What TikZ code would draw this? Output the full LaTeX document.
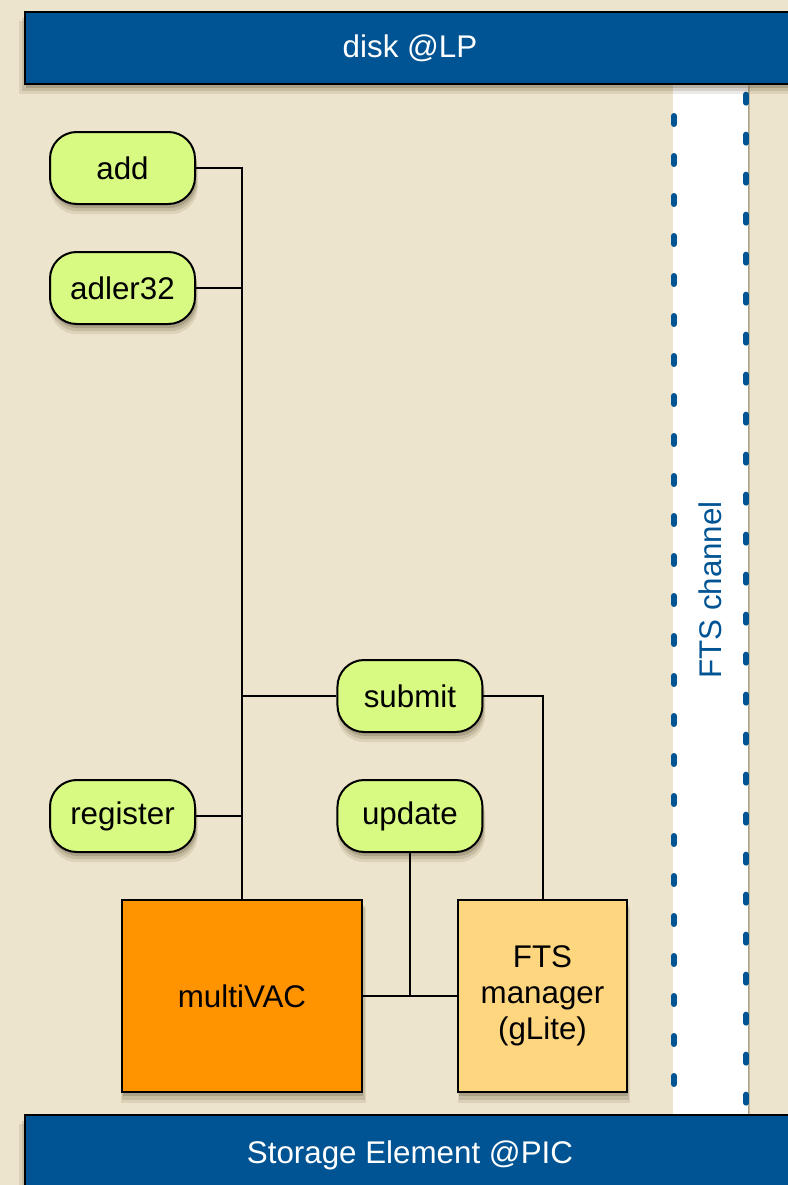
\documentclass[tikz,border=0pt]{standalone}
\usepackage{fontspec}
\setmainfont{Liberation Sans}
\usetikzlibrary{shadows}
\definecolor{paper}{RGB}{236,228,204}
\definecolor{lpblue}{RGB}{0,84,147}
\definecolor{pillgreen}{RGB}{216,249,130}
\definecolor{vacorange}{RGB}{255,148,0}
\definecolor{ftsyellow}{RGB}{255,214,128}
\definecolor{shade}{RGB}{70,55,25}
\tikzset{softshadow/.style = {
  general shadow={shadow xshift=1pt, shadow yshift=-7pt, shadow scale=1.02, fill=shade, opacity=0.10},
  general shadow={shadow xshift=1pt, shadow yshift=-5pt, shadow scale=1.01, fill=shade, opacity=0.14},
  general shadow={shadow xshift=1pt, shadow yshift=-3pt, fill=shade, opacity=0.20}}}
\tikzstyle{bar} = [rectangle, draw = black, line width = 1.5pt, fill = lpblue, text = white, minimum width = 577.5pt, softshadow, font = \fontsize{23.5}{28}\selectfont]
\tikzstyle{command} = [rectangle, rounded corners = 20pt, draw = black, line width = 1.5pt, fill = pillgreen, minimum width = 108.75pt, minimum height = 54pt, inner sep = 0pt, softshadow]
\tikzstyle{service} = [rectangle, draw = black, line width = 1.5pt, minimum height = 144pt, inner sep = 0pt, align = center, softshadow]
\tikzstyle{wire} = [line width = 1.5pt, draw = black]

\begin{document}
\begin{tikzpicture}[x = 0.75pt, y = -0.75pt, font = \fontsize{23.5}{27}\selectfont]
\useasboundingbox (0,0) rectangle (788,1185);
\fill[paper] (0,0) rectangle (788,1185);

% FTS channel strip
\fill[white, softshadow] (673,84) rectangle (748,1115);
\draw[lpblue, line width = 4.5pt, line cap = round, dash pattern = on 6pt off 24pt, dash phase = 6pt] (674,84) -- (674,1115);
\draw[lpblue, line width = 4.5pt, line cap = round, dash pattern = on 6pt off 24pt, dash phase = 22pt] (746,84) -- (746,1115);
\node (channel) [rotate = 90, text = lpblue] at (710,590) {FTS channel};

% storage bars
\node (disk) [bar, minimum height = 54pt] at (410,48) {disk @LP};
\node (se) [bar, minimum height = 60pt, text depth = 0pt] at (410,1155) {\raisebox{4pt}{Storage Element @PIC}};

% commands and services
\node (add) [command] at (122.5,168) {add};
\node (adler) [command, below of = add, node distance = 90pt] {adler32};
\node (register) [command] at (122.5,816) {register};
\node (update) [command, right of = register, node distance = 215.6pt] {update};
\node (submit) [command, above of = update, node distance = 90pt] {submit};
\node (multivac) [service, fill = vacorange, minimum width = 180pt] at (242,996) {multiVAC};
\node (ftsman) [service, fill = ftsyellow, minimum width = 126.75pt, right of = multivac, node distance = 225.4pt] {FTS\\manager\\(gLite)};

\draw [wire] (add.east) -| (multivac.north);
\draw [wire] (adler.east) -| (multivac.north);
\draw [wire] (submit.west) -| (multivac.north);
\draw [wire] (register.east) -| (multivac.north);
\draw [wire] (submit.east) -| (ftsman.north);
\draw [wire] (multivac.east) -- (ftsman.west);
\draw [wire] (update.south) -- (update.south |- multivac.east);
\end{tikzpicture}
\end{document}
